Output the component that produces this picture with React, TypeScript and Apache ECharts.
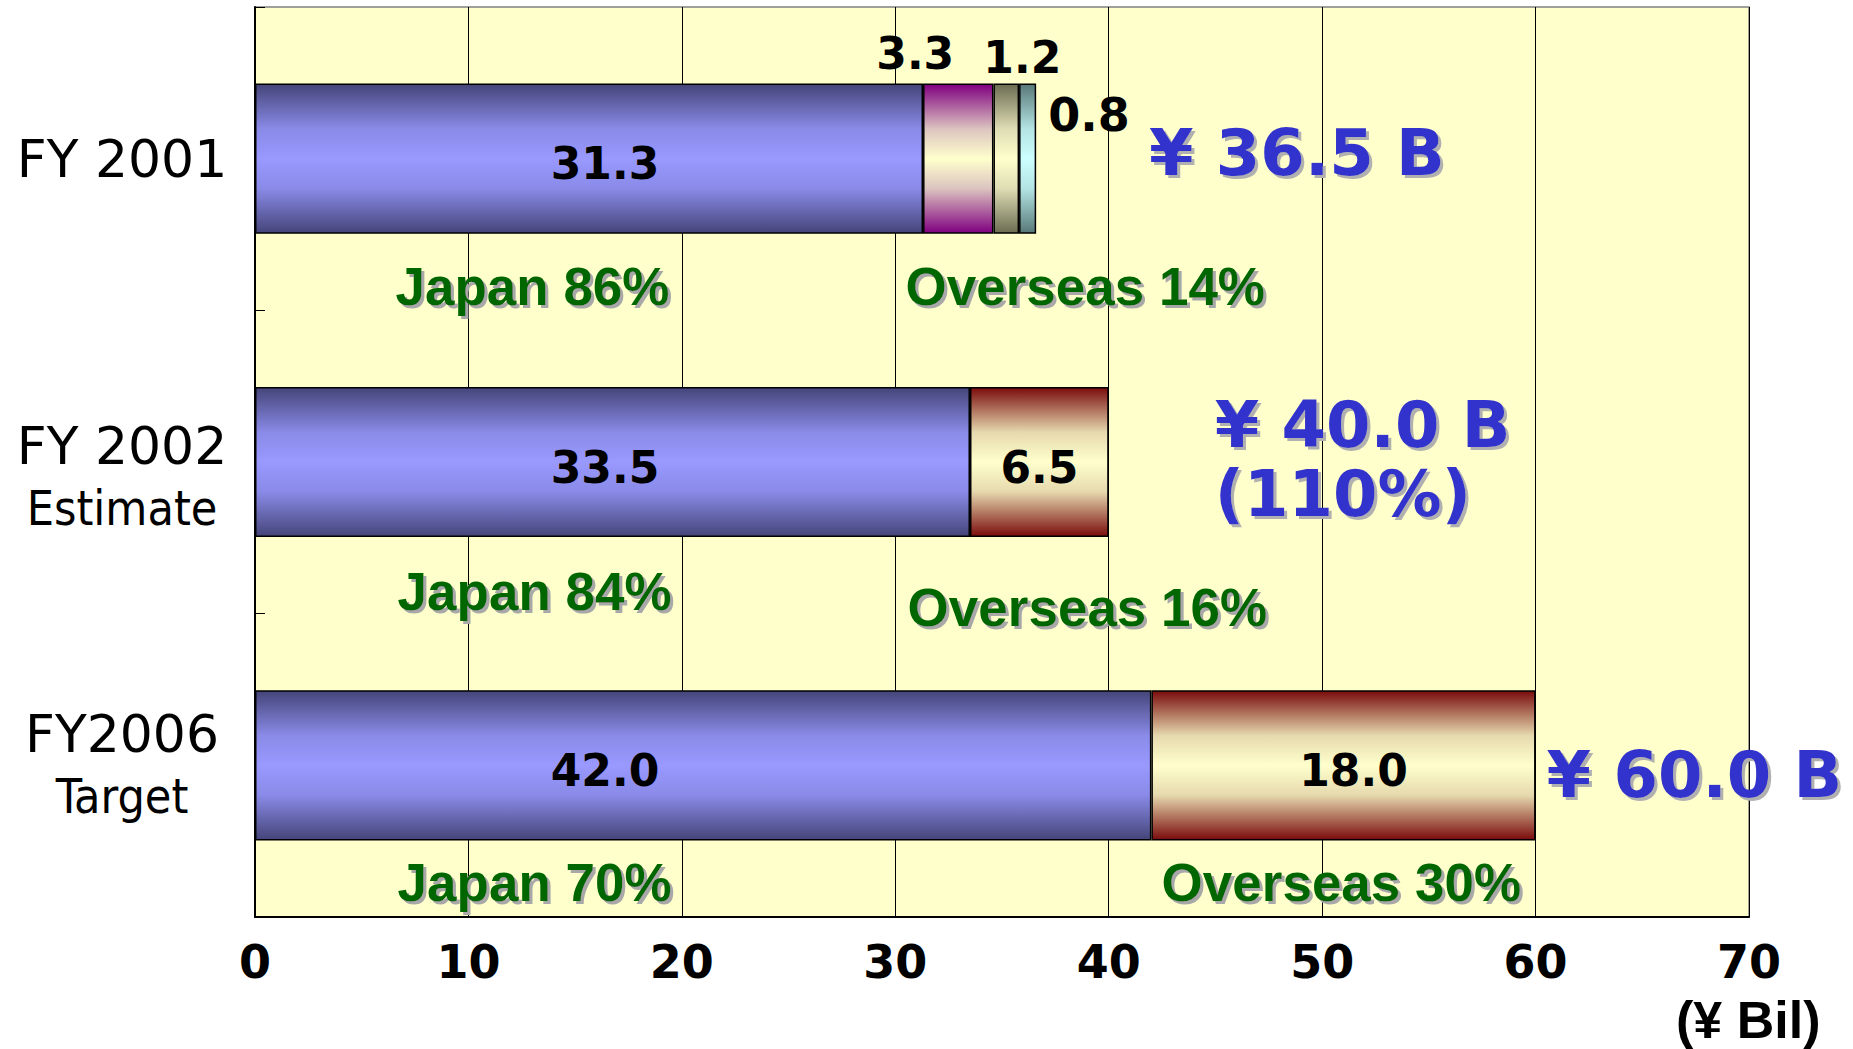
import React, { useEffect, useRef } from "react";
import * as echarts from "echarts";

// ---- data ----
const categories = ["FY 2001", "FY 2002\nEstimate", "FY2006\nTarget"];
const japan = [31.3, 33.5, 42.0];
const overseasMain = [3.3, 6.5, 18.0];
const overseasSecond = [1.2, null, null];
const overseasThird = [0.8, null, null];
const totals = [36.5, 40.0, 60.0];
const growthPct = [null, 110, null];
const japanPct = [86, 84, 70];
const overseasPct = [14, 16, 30];
const xTicks = { min: 0, max: 70, interval: 10 };
const unitLabel = "(¥ Bil)";

const grad = (stops: [number, string][]) =>
  new echarts.graphic.LinearGradient(
    0,
    0,
    0,
    1,
    stops.map(([offset, color]) => ({ offset, color }))
  );

const sym = (edge: string, near: string, mid: string) =>
  grad([
    [0, edge],
    [0.3, near],
    [0.5, mid],
    [0.7, near],
    [1, edge],
  ]);

export default function App() {
  const ref = useRef<HTMLDivElement>(null);

  useEffect(() => {
    if (!ref.current) return;
    const chart = echarts.init(ref.current, undefined, { renderer: "svg" });

    const blueGrad = sym("#45457a", "#8a8ae8", "#9999ff");
    const redGrad = sym("#7a0c0c", "#e6d9ae", "#ffffcc");
    const purpleGrad = sym("#800080", "#dcc4c0", "#ffffcc");
    const oliveGrad = sym("#6c6c52", "#deddb4", "#ffffcc");
    const tealGrad = sym("#587878", "#b4e4e4", "#ccffff");

    const barFont = {
      fontFamily: "DejaVu Sans",
      fontWeight: "bold" as const,
      fontSize: 44,
      color: "#000",
    };
    const border = { borderColor: "#000", borderWidth: 1.5 };
    const barWidth = "49.5%";

    const greenStyle = {
      fontFamily: "Liberation Sans, Arial, sans-serif",
      fontWeight: "bold" as const,
      fontSize: 53,
      color: "#006600",
      opacity: 1,
      textShadowColor: "#a8a8a8",
      textShadowOffsetX: 3,
      textShadowOffsetY: 3,
      textShadowBlur: 1,
    };
    const blueStyle = {
      fontFamily: "DejaVu Sans",
      fontWeight: "bold" as const,
      fontSize: 64,
      lineHeight: 69,
      color: "#3333cc",
      opacity: 1,
      textShadowColor: "#b0b0b0",
      textShadowOffsetX: 3,
      textShadowOffsetY: 3,
      textShadowBlur: 1,
    };

    const totalOffsets = [
      [115, -6],
      [106, -3],
      [11, 10],
    ];
    const japanLabelX = [13.0, 13.1, 13.1];
    const overseasLabelX = [38.9, 39.0, 50.9];
    const pctDy = [
      [128, 128],
      [129, 145],
      [117, 117],
    ];
    const hidden = { color: "rgba(0,0,0,0)", opacity: 1 };

    chart.setOption({
      animation: false,
      backgroundColor: "#ffffff",
      grid: {
        left: 255,
        right: 104,
        top: 7,
        bottom: 132,
        containLabel: false,
        outerBoundsMode: "none",
        show: true,
        backgroundColor: "#ffffcc",
        borderColor: "#808080",
        borderWidth: 1.5,
      },
      xAxis: {
        type: "value",
        min: xTicks.min,
        max: xTicks.max,
        interval: xTicks.interval,
        axisLine: { show: true, lineStyle: { color: "#000", width: 2 } },
        axisTick: { show: false },
        splitLine: { show: true, lineStyle: { color: "#000", width: 1 } },
        axisLabel: {
          margin: 22,
          fontFamily: "DejaVu Sans",
          fontWeight: "bold",
          fontSize: 46,
          color: "#000",
        },
      },
      yAxis: {
        type: "category",
        data: categories,
        inverse: true,
        axisLine: { show: true, lineStyle: { color: "#000", width: 2 } },
        axisTick: { show: true, inside: true, length: 10, lineStyle: { color: "#000" } },
        splitLine: { show: false },
        axisLabel: {
          margin: 133,
          align: "center",
          formatter: (v: string, idx: number) => {
            const [a, b] = v.split("\n");
            if (!b) return `{a|${a}}`;
            // the middle label sits a little lower in the reference
            return idx === 1 ? `{s| }\n{a|${a}}\n{b|${b}}` : `{a|${a}}\n{b|${b}}`;
          },
          rich: {
            s: { fontSize: 2, lineHeight: 30 },
            a: { fontFamily: "DejaVu Sans", fontSize: 52, color: "#000", lineHeight: 62 },
            b: {
              fontFamily:
                "Liberation Sans Narrow, DejaVu Sans Condensed, Liberation Sans, sans-serif",
              fontSize: 48,
              color: "#000",
              lineHeight: 62,
            },
          },
        },
      },
      series: [
        {
          name: "Japan",
          type: "bar",
          stack: "total",
          barWidth,
          data: japan,
          itemStyle: { color: blueGrad, ...border },
          label: {
            show: true,
            position: [350, "50%"],
            offset: [0, 5],
            align: "center",
            verticalAlign: "middle",
            formatter: (p: any) => p.value.toFixed(1),
            ...barFont,
          },
        },
        {
          name: "Overseas A",
          type: "bar",
          stack: "total",
          barWidth,
          data: overseasMain.map((v, i) =>
            i === 0
              ? {
                  value: v,
                  itemStyle: { color: purpleGrad },
                  label: { position: "top", offset: [-43, -4], distance: 4 },
                }
              : i === 2
              ? { value: v, label: { offset: [10, 5] } }
              : { value: v }
          ),
          itemStyle: { color: redGrad, ...border },
          label: {
            show: true,
            position: "inside",
            offset: [0, 5],
            formatter: (p: any) => p.value.toFixed(1),
            ...barFont,
          },
        },
        {
          name: "Overseas B",
          type: "bar",
          stack: "total",
          barWidth,
          data: overseasSecond,
          itemStyle: { color: oliveGrad, ...border },
          label: {
            show: true,
            position: "top",
            distance: 2,
            offset: [16, -2],
            formatter: (p: any) => (p.value == null ? "" : p.value.toFixed(1)),
            ...barFont,
          },
        },
        {
          name: "Overseas C",
          type: "bar",
          stack: "total",
          barWidth,
          data: overseasThird,
          itemStyle: { color: tealGrad, ...border },
          label: {
            show: true,
            position: "right",
            distance: 12,
            offset: [0, -44],
            formatter: (p: any) => (p.value == null ? "" : p.value.toFixed(1)),
            ...barFont,
            fontSize: 46,
          },
        },
        {
          name: "Total",
          type: "scatter",
          symbolSize: 0,
          silent: true,
          z: 5,
          itemStyle: hidden,
          data: totals.map((t, i) => ({
            value: [t, i],
            label: {
              show: true,
              position: "right",
              distance: 0,
              offset: totalOffsets[i],
              align: "left",
              verticalAlign: "middle",
              formatter:
                growthPct[i] != null
                  ? `¥ ${t.toFixed(1)} B\n(${growthPct[i]}%)`
                  : `¥ ${t.toFixed(1)} B`,
              ...blueStyle,
            },
          })),
        },
        {
          name: "Japan share",
          type: "scatter",
          symbolSize: 0,
          silent: true,
          z: 5,
          itemStyle: hidden,
          data: japanPct.map((p, i) => ({
            value: [japanLabelX[i], i],
            label: {
              show: true,
              position: "inside",
              offset: [0, pctDy[i][0]],
              formatter: `Japan ${p}%`,
              ...greenStyle,
            },
          })),
        },
        {
          name: "Overseas share",
          type: "scatter",
          symbolSize: 0,
          silent: true,
          z: 5,
          itemStyle: hidden,
          data: overseasPct.map((p, i) => ({
            value: [overseasLabelX[i], i],
            label: {
              show: true,
              position: "inside",
              offset: [0, pctDy[i][1]],
              formatter: `Overseas ${p}%`,
              ...greenStyle,
            },
          })),
        },
      ],
      graphic: [
        {
          type: "text",
          left: 1676,
          top: 994,
          style: {
            text: unitLabel,
            fontFamily: "Liberation Sans, Arial, sans-serif",
            fontWeight: "bold",
            fontSize: 52,
            fill: "#000",
          },
        },
      ],
    });

    return () => chart.dispose();
  }, []);

  return (
    <div
      ref={ref}
      style={{ position: "fixed", left: 0, top: 0, width: 1853, height: 1049 }}
    />
  );
}
